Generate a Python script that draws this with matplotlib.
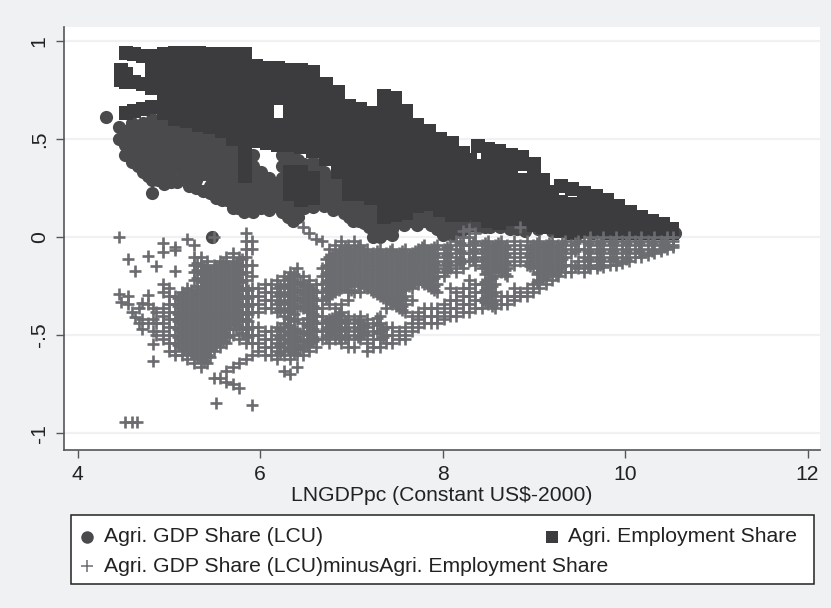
import matplotlib
matplotlib.use('Agg')
import matplotlib.pyplot as plt
from matplotlib.lines import Line2D
from matplotlib.patches import Rectangle

plt.rcParams['font.family'] = ['Liberation Sans', 'DejaVu Sans']

# values, one list of y values per x position
gdp_x = [4.31, 4.45, 4.52, 4.6, 4.72, 4.81, 4.95, 5.09, 5.22, 5.37, 5.45, 5.47, 5.58, 5.7, 5.82, 5.92,
         6.1, 6.24, 6.36, 6.48, 6.58, 6.7, 6.8, 6.92, 7.02, 7.14, 7.24, 7.31, 7.45, 7.58, 7.72, 7.87,
         8.0, 8.1, 8.24, 8.4, 8.52, 8.74, 8.9, 9.2, 9.5, 9.8, 10.1, 10.3, 10.55,
         4.58, 4.66, 4.77, 4.88, 5.02, 5.15, 5.3, 5.52, 5.64, 5.76, 5.87, 6.01, 6.17, 6.3, 6.42, 6.53,
         6.64, 6.75, 6.86, 6.97, 7.08, 7.19, 7.28, 7.38, 7.52, 7.65, 7.8, 7.94, 8.05, 8.17, 8.32, 8.46,
         8.63, 8.82, 9.05, 9.35, 9.65, 9.95, 10.2, 10.42]
gdp_y = [[.61], [.56, .5], [.54, .47, .42], [.58, .52, .46, .38], [.58, .52, .46, .4, .33],
         [.6, .54, .48, .42, .36, .29, .225], [.6, .54, .48, .42, .36, .32, .27], [.6, .54, .48, .42, .36, .28],
         [.58, .52, .46, .4, .34, .28, .26], [.56, .5, .44, .38, .32, .235], [.55, .49, .43, .37, .31, .26, .225],
         [0.0], [.53, .47, .41, .35, .29, .23, .19], [.52, .46, .4, .34, .28, .22, .15],
         [.46, .4, .34, .28, .22, .17, .13], [.42, .36, .3, .24, .18, .125], [.3, .24, .19, .14],
         [.42, .36, .3, .24, .18, .13], [.42, .36, .3, .24, .18, .13, .08], [.37, .3, .24, .18, .15],
         [.38, .32, .26, .2, .155], [.33, .27, .21, .16], [.3, .24, .19, .14], [.28, .22, .16, .12],
         [.26, .2, .14, .08], [.24, .18, .12, .07], [.2, .14, .08, 0.0], [.16, .1, .05, 0.0],
         [.14, .08, .04, .01], [.12, .07, .06], [.14, .09, .06], [.13, .08, .06], [.12, .07, .01],
         [.12, .06, .01], [.1, .06, .04], [.1, .05], [.09, .05], [.07, .04], [.05, .03], [.03], [.02], [.02],
         [.02], [.02], [.02],
         [.55, .49, .43], [.55, .49, .43, .36], [.55, .49, .43, .37, .31], [.57, .51, .45, .39, .33, .29],
         [.57, .51, .45, .39, .33, .28], [.55, .49, .43, .37, .31], [.53, .47, .41, .35, .29, .25],
         [.5, .44, .38, .32, .26, .2], [.49, .43, .37, .31, .25, .19], [.43, .37, .31, .25, .19, .15],
         [.39, .33, .27, .21, .15], [.33, .27, .21, .15], [.27, .21, .16], [.39, .33, .27, .21, .15, .1],
         [.39, .33, .27, .21, .15, .1], [.35, .29, .23, .17], [.35, .29, .23, .18], [.3, .24, .18],
         [.27, .21, .15], [.25, .19, .13, .1], [.23, .17, .11, .08], [.2, .15, .1, .05], [.16, .1, .04],
         [.12, .06, .02], [.12, .08], [.12, .08], [.12, .08], [.12, .08, .04], [.1, .04], [.1, .05, .03],
         [.1, .06], [.09, .05], [.08, .05], [.06, .04], [.04], [.03], [.02], [.02], [.02], [.02]]

emp_x = [4.47, 4.53, 4.62, 4.72, 4.82, 4.95, 5.07, 5.2, 5.33, 5.45, 5.58, 5.7, 5.83, 5.95, 6.08, 6.2,
         6.33, 6.45, 6.58, 6.72, 6.85, 6.97, 7.1, 7.22, 7.36, 7.48, 7.6, 7.72, 7.85, 7.97, 8.1, 8.22,
         8.3, 8.39, 8.5, 8.62, 8.75, 8.87, 9.0, 9.1, 9.2, 9.3, 9.42, 9.55, 9.68, 9.8, 9.92, 10.05,
         10.18, 10.3, 10.42, 10.52]
emp_y = [[.85, .8], [.94, .83, .79, .63], [.93, .79, .64], [.92, .78, .65], [.92, .87, .81, .76, .66],
         [.93, .88, .82, .77, .72, .67, .63], [.94, .89, .84, .78, .73, .68, .64, .6],
         [.94, .89, .83, .78, .72, .67, .62, .59], [.94, .88, .83, .77, .72, .66, .61, .57],
         [.93, .88, .82, .77, .71, .66, .6, .56], [.93, .87, .82, .76, .71, .65, .6, .54],
         [.93, .88, .82, .77, .71, .65, .6, .54, .5], [.93, .88, .82, .76, .71, .65, .6, .55, .5, .45, .4, .35, .31],
         [.87, .82, .76, .71, .65, .6, .55, .49], [.86, .81, .75, .7, .64, .58, .53, .48],
         [.86, .81, .75, .71, .57, .52, .47], [.85, .8, .74, .69, .63, .58, .52, .47, .33, .28, .22],
         [.85, .79, .74, .68, .62, .57, .51, .46, .33, .28, .22, .19], [.84, .78, .72, .67, .61, .55, .5, .44, .3, .25, .2],
         [.78, .72, .67, .61, .56, .5, .45, .4], [.74, .69, .63, .58, .52, .47, .42, .37, .33],
         [.67, .62, .56, .51, .45, .4, .35, .3, .27, .22], [.65, .6, .54, .49, .43, .38, .33, .28, .22],
         [.63, .57, .52, .46, .41, .36, .31, .26, .2], [.72, .67, .61, .56, .5, .45, .4, .35, .3, .25, .2, .14, .1],
         [.71, .65, .6, .54, .49, .43, .38, .33, .28, .22, .17, .11], [.64, .59, .53, .48, .42, .37, .32, .27, .22, .17, .12],
         [.57, .52, .47, .41, .36, .31, .26, .21, .16], [.54, .49, .44, .38, .33, .28, .22, .17],
         [.5, .45, .4, .34, .29, .24, .19, .14], [.48, .43, .37, .32, .27, .22, .16, .11],
         [.43, .38, .32, .27, .22, .16, .11], [.39, .33, .28, .22, .17, .12], [.465, .36, .31, .26, .21, .16, .11],
         [.45, .41, .34, .29, .23, .18, .12, .08], [.44, .4, .33, .27, .22, .16, .1, .07],
         [.42, .38, .31, .26, .2, .15, .09], [.41, .37, .29, .24, .19, .13, .08], [.37, .32, .27, .21, .15, .1, .06],
         [.29, .24, .19, .13, .08, .05], [.23, .18, .13, .08, .05], [.26, .18, .13, .09, .05, .03],
         [.245, .17, .12, .08, .04, .02], [.225, .155, .1, .06, .03], [.21, .145, .09, .05, .03],
         [.19, .13, .08, .04, .02], [.16, .11, .07, .03, .02], [.125, .08, .04, .02], [.1, .06, .03, .02],
         [.08, .05, .02], [.065, .035, .02], [.04, .02]]

diff_x = [4.45, 4.48, 4.52, 4.55, 4.6, 4.63, 4.65, 4.67, 4.71, 4.77, 4.83, 4.86, 4.94, 5.0, 5.07, 5.14, 5.2,
          5.28, 5.35, 5.42, 5.49, 5.52, 5.56, 5.63, 5.7, 5.77, 5.84, 5.91, 5.98, 6.05, 6.12, 6.19, 6.26, 6.33,
          6.4, 6.47, 6.54, 6.61, 6.68, 6.75, 6.82, 6.89, 6.96, 7.03, 7.1, 7.17, 7.24, 7.31, 7.38, 7.45, 7.52,
          7.59, 7.66, 7.73, 7.8, 7.87, 7.94, 8.01, 8.08, 8.15, 8.22, 8.29, 8.36, 8.43, 8.5, 8.57, 8.64, 8.71,
          8.78, 8.85, 8.92, 8.99, 9.06, 9.13, 9.2, 9.27, 9.34, 9.41, 9.48, 9.55, 9.62, 9.69, 9.76, 9.83, 9.9,
          9.97, 10.04, 10.11, 10.18, 10.25, 10.32, 10.39, 10.46, 10.53]
diff_y = [[0.0, -.29], [-.33], [-.94], [-.11, -.3, -.34], [-.94, -.38], [-.175, -.405], [-.94], [-.36, -.44],
          [-.335, -.42, -.47], [-.095, -.295, -.34, -.44], [-.36, -.42, -.48, -.545, -.63], [-.15, -.38, -.44, -.5],
          [-.03, -.075, -.24, -.28, -.36, -.4, -.44, -.48, -.52], [-.26, -.3, -.34, -.38, -.42, -.46, -.5, -.54, -.58],
          [-.05, -.065, -.175, -.3, -.34, -.38, -.42, -.46, -.5, -.54, -.58, -.6],
          [-.28, -.32, -.36, -.4, -.44, -.48, -.52, -.56, -.6],
          [-.01, -.26, -.3, -.34, -.38, -.42, -.46, -.5, -.54, -.58, -.62],
          [-.04, -.1, -.14, -.18, -.22, -.28, -.32, -.36, -.4, -.44, -.48, -.52, -.56, -.6, -.64],
          [-.1, -.14, -.18, -.22, -.26, -.3, -.34, -.38, -.42, -.46, -.5, -.54, -.58, -.62, -.66],
          [-.12, -.16, -.2, -.24, -.28, -.32, -.36, -.4, -.44, -.48, -.52, -.56, -.6, -.64],
          [0.0, -.14, -.18, -.22, -.26, -.3, -.34, -.38, -.42, -.46, -.5, -.54, -.58, -.72], [-.845],
          [-.12, -.16, -.2, -.24, -.28, -.32, -.36, -.4, -.44, -.48, -.52, -.56, -.72],
          [-.1, -.14, -.18, -.22, -.26, -.3, -.34, -.38, -.42, -.46, -.5, -.54, -.68, -.74],
          [-.08, -.12, -.16, -.2, -.24, -.28, -.32, -.36, -.4, -.44, -.5, -.66, -.75],
          [-.1, -.14, -.18, -.22, -.26, -.3, -.34, -.38, -.42, -.46, -.52, -.64, -.77],
          [.02, -.02, -.06, -.1, -.14, -.18, -.22, -.26, -.3, -.34, -.38, -.42, -.46, -.5, -.54, -.62],
          [-.02, -.06, -.14, -.2, -.26, -.3, -.34, -.38, -.46, -.5, -.54, -.6, -.855],
          [-.26, -.3, -.34, -.38, -.46, -.5, -.54, -.58], [-.24, -.28, -.32, -.36, -.48, -.52, -.56, -.6],
          [-.24, -.28, -.32, -.36, -.48, -.52, -.56, -.6], [-.22, -.26, -.3, -.34, -.38, -.46, -.5, -.54, -.58, -.62],
          [-.2, -.24, -.28, -.32, -.36, -.4, -.44, -.48, -.52, -.56, -.6, -.68],
          [-.18, -.22, -.26, -.3, -.34, -.38, -.42, -.46, -.5, -.54, -.58, -.62, -.7],
          [-.16, -.2, -.24, -.28, -.32, -.36, -.42, -.48, -.52, -.56, -.6, -.66],
          [.05, -.2, -.24, -.28, -.32, -.36, -.44, -.48, -.52, -.56, -.6],
          [.02, -.22, -.26, -.3, -.34, -.38, -.42, -.46, -.5, -.54, -.58],
          [-.01, -.24, -.28, -.32, -.36, -.4, -.44, -.48, -.52, -.56],
          [-.02, -.16, -.2, -.24, -.28, -.32, -.36, -.4, -.44, -.48, -.52],
          [-.06, -.1, -.14, -.18, -.22, -.26, -.3, -.34, -.42, -.46, -.5, -.54],
          [-.04, -.08, -.12, -.16, -.2, -.24, -.28, -.36, -.4, -.44, -.48, -.52],
          [-.02, -.06, -.1, -.14, -.18, -.22, -.26, -.34, -.38, -.42, -.46, -.5, -.54],
          [-.04, -.08, -.12, -.16, -.2, -.24, -.28, -.32, -.4, -.44, -.48, -.52, -.56],
          [-.02, -.06, -.1, -.14, -.18, -.22, -.28, -.42, -.46, -.5, -.56],
          [-.04, -.08, -.12, -.16, -.2, -.24, -.28, -.4, -.44, -.48, -.52],
          [-.06, -.1, -.14, -.18, -.22, -.26, -.42, -.46, -.5, -.54, -.58],
          [-.08, -.12, -.16, -.2, -.24, -.28, -.44, -.48, -.52, -.56],
          [-.06, -.1, -.14, -.18, -.22, -.26, -.3, -.4, -.44, -.48, -.52, -.56],
          [-.08, -.12, -.16, -.2, -.24, -.28, -.32, -.36, -.46, -.5, -.54],
          [-.06, -.1, -.14, -.18, -.22, -.26, -.3, -.34, -.46, -.5, -.54],
          [-.08, -.12, -.16, -.2, -.24, -.28, -.32, -.36, -.48, -.52],
          [-.06, -.1, -.14, -.18, -.22, -.26, -.3, -.34, -.38, -.46, -.5, -.52],
          [-.08, -.12, -.16, -.2, -.24, -.26, -.32, -.4, -.44, -.48],
          [-.06, -.1, -.14, -.18, -.22, -.24, -.38, -.42, -.46],
          [-.04, -.08, -.12, -.16, -.2, -.24, -.36, -.4, -.44],
          [-.06, -.1, -.14, -.18, -.22, -.26, -.36, -.4, -.44],
          [-.04, -.08, -.12, -.16, -.2, -.24, -.28, -.36, -.4, -.44],
          [-.06, -.1, -.14, -.18, -.2, -.34, -.38, -.42],
          [-.04, -.08, -.12, -.16, -.26, -.32, -.36, -.4],
          [-.02, -.06, -.1, -.14, -.18, -.28, -.32, -.36, -.4],
          [.03, 0.0, -.04, -.08, -.12, -.16, -.26, -.3, -.34, -.38],
          [.04, 0.0, -.04, -.08, -.12, -.22, -.26, -.3, -.34, -.38],
          [.02, -.02, -.06, -.1, -.14, -.24, -.28, -.32, -.36],
          [-.04, -.08, -.12, -.16, -.24, -.28, -.32, -.36],
          [-.02, -.06, -.1, -.14, -.18, -.22, -.26, -.3, -.34],
          [-.04, -.08, -.12, -.16, -.2, -.24, -.28, -.32, -.36],
          [-.02, -.06, -.1, -.14, -.18, -.3, -.34],
          [-.04, -.08, -.12, -.16, -.2, -.3, -.34],
          [-.02, -.06, -.1, -.14, -.26, -.3, -.32],
          [.05, -.04, -.08, -.12, -.28, -.3],
          [-.02, -.06, -.1, -.14, -.26, -.3],
          [-.04, -.08, -.12, -.16, -.24, -.28],
          [-.02, -.06, -.1, -.14, -.18, -.22, -.26],
          [-.04, -.08, -.12, -.16, -.2, -.24],
          [-.02, -.06, -.1, -.14, -.18, -.22],
          [-.04, -.08, -.12, -.16, -.2],
          [-.02, -.06, -.1, -.14, -.18],
          [-.04, -.08, -.14, -.18],
          [-.02, -.06, -.12, -.16],
          [-.02, -.06, -.1, -.14, -.18],
          [0.0, -.04, -.08, -.12, -.16],
          [-.02, -.06, -.1, -.14, -.16],
          [0.0, -.04, -.08, -.12, -.155],
          [-.02, -.06, -.1, -.14],
          [0.0, -.04, -.08, -.12, -.14],
          [-.02, -.06, -.1, -.13],
          [0.0, -.04, -.08, -.12],
          [-.02, -.06, -.1],
          [0.0, -.04, -.08, -.1],
          [-.02, -.06, -.09],
          [0.0, -.04, -.08],
          [-.02, -.06, -.07],
          [0.0, -.04, -.06],
          [0.0, -.02, -.04, -.05]]

# second pass over the dense parts of the same cloud
diff_x2 = [5.1, 5.17, 5.24, 5.31, 5.38, 5.45, 5.52, 5.59, 5.66, 5.73, 5.8, 5.87, 6.22, 6.3, 6.37, 6.44, 6.51, 6.58,
           6.72, 6.79, 6.86, 6.93, 7.0, 7.07, 7.14, 7.21, 7.28, 7.35, 7.42, 7.49, 7.56, 7.63, 7.7, 7.77, 7.84,
           7.91, 8.05, 8.19, 8.33, 8.47, 8.54, 8.61, 8.68, 8.96, 9.03, 9.1, 9.17, 9.24, 9.31, 9.45, 9.59, 9.73,
           9.87, 10.01, 10.15, 10.29, 10.43]
diff_y2 = [[-.31, -.35, -.39, -.43, -.47, -.51, -.55],
           [-.29, -.33, -.37, -.41, -.45, -.49, -.53, -.57],
           [-.27, -.31, -.35, -.39, -.43, -.47, -.51, -.55, -.59],
           [-.13, -.17, -.21, -.25, -.29, -.33, -.37, -.41, -.45, -.49, -.53, -.57, -.61],
           [-.15, -.19, -.23, -.27, -.31, -.35, -.39, -.43, -.47, -.51, -.55, -.59, -.63],
           [-.17, -.21, -.25, -.29, -.33, -.37, -.41, -.45, -.49, -.53, -.57, -.61],
           [-.15, -.19, -.23, -.27, -.31, -.35, -.39, -.43, -.47, -.51, -.55],
           [-.13, -.17, -.21, -.25, -.29, -.33, -.37, -.41, -.45, -.49, -.53],
           [-.15, -.19, -.23, -.27, -.31, -.35, -.39, -.43, -.47, -.51],
           [-.13, -.17, -.21, -.25, -.29, -.33, -.37, -.41, -.45, -.47],
           [-.11, -.15, -.19, -.23, -.27, -.31, -.35, -.39, -.43, -.47, -.49],
           [-.27, -.31, -.35, -.39, -.43, -.47, -.51],
           [-.25, -.29, -.33, -.37, -.47, -.51, -.55, -.59],
           [-.21, -.25, -.29, -.33, -.37, -.41, -.45, -.49, -.53, -.57],
           [-.19, -.23, -.27, -.31, -.35, -.39, -.43, -.47, -.51, -.55, -.59],
           [-.23, -.27, -.31, -.35, -.49, -.53, -.57],
           [-.25, -.29, -.33, -.37, -.41, -.45, -.49, -.53, -.55],
           [-.27, -.31, -.35, -.39, -.43, -.47, -.51, -.53],
           [-.11, -.15, -.19, -.23, -.27, -.31, -.43, -.47, -.51],
           [-.09, -.13, -.17, -.21, -.25, -.29, -.41, -.45, -.49],
           [-.07, -.11, -.15, -.19, -.23, -.27, -.39, -.43, -.47, -.51],
           [-.05, -.09, -.13, -.17, -.21, -.25, -.43, -.47, -.51],
           [-.07, -.11, -.15, -.19, -.23, -.27],
           [-.05, -.09, -.13, -.17, -.21, -.25, -.43, -.47, -.51],
           [-.07, -.11, -.15, -.19, -.23, -.25, -.45, -.49],
           [-.09, -.13, -.17, -.21, -.25, -.27],
           [-.07, -.11, -.15, -.19, -.23, -.27, -.29, -.41, -.45, -.49],
           [-.09, -.13, -.17, -.21, -.25, -.29, -.31, -.47, -.51],
           [-.07, -.11, -.15, -.19, -.23, -.27, -.31, -.33],
           [-.09, -.13, -.17, -.21, -.25, -.29, -.33, -.35],
           [-.07, -.11, -.15, -.19, -.23, -.27, -.31, -.35, -.37],
           [-.09, -.13, -.17, -.21, -.25],
           [-.07, -.11, -.15, -.19, -.23],
           [-.05, -.09, -.13, -.17, -.21, -.23],
           [-.07, -.11, -.15, -.19, -.23, -.25],
           [-.05, -.09, -.13, -.17, -.21, -.25, -.27],
           [-.05, -.09, -.13, -.17],
           [-.03, -.07, -.11, -.13],
           [-.03, -.07, -.11],
           [-.03, -.07, -.11, -.15, -.19, -.23, -.27, -.31, -.33],
           [-.05, -.09, -.13, -.17, -.21, -.25, -.29, -.33, -.35],
           [-.03, -.07, -.11, -.15, -.17],
           [-.05, -.09, -.13, -.17, -.19],
           [-.05, -.09, -.13, -.15],
           [-.03, -.07, -.11, -.15, -.19, -.23],
           [-.05, -.09, -.13, -.17, -.21],
           [-.03, -.07, -.11, -.15, -.19],
           [-.05, -.09, -.13, -.17, -.19],
           [-.03, -.07, -.11, -.15],
           [-.03, -.07, -.15],
           [-.03, -.07, -.11, -.15],
           [-.03, -.07, -.11, -.14],
           [-.03, -.07, -.11],
           [-.03, -.07, -.11],
           [-.03, -.07],
           [-.03, -.07],
           [-.03, -.05]]

x_ticks = [4, 6, 8, 10, 12]
y_ticks = [-1, -.5, 0, .5, 1]
y_tick_labels = ['-1', '-.5', '0', '.5', '1']

gdp_color = '#4a4a4d'
emp_color = '#3c3c3e'
diff_color = '#6b6c70'
text_color = '#222222'


def flatten(xs, ys):
    # one point per y value, repeating the column's x
    px, py = [], []
    for x, col in zip(xs, ys):
        for y in col:
            px.append(x)
            py.append(y)
    return px, py


W, H = 831, 608
fig = plt.figure(figsize=(W / 100, H / 100), dpi=100, facecolor='#eff1f3')
ax = fig.add_axes([64 / W, 1 - 450 / H, (820 - 64) / W, (450 - 27) / H])
ax.set_xlim(3.85, 12.137)
ax.set_ylim(-1.085, 1.07)

ax.grid(axis='y', color='#eff1f3', linewidth=1.6)
ax.set_axisbelow(True)

gx, gy = flatten(gdp_x, gdp_y)
ex, ey = flatten(emp_x, emp_y)
dx, dy = flatten(diff_x + diff_x2, diff_y + diff_y2)
ax.scatter(gx, gy, s=90, marker='o', color=gdp_color, linewidths=0)
ax.scatter(ex, ey, s=90, marker='s', color=emp_color, linewidths=0)
ax.scatter(dx, dy, s=75, marker='+', color=diff_color, linewidths=1.9)

for side in ['top', 'right']:
    ax.spines[side].set_visible(False)
for side in ['left', 'bottom']:
    ax.spines[side].set_color('#55565a')
    ax.spines[side].set_linewidth(1.2)

ax.set_xticks(x_ticks)
ax.set_yticks(y_ticks)
ax.set_yticklabels(y_tick_labels, rotation=90, va='center')
ax.tick_params(axis='both', length=6, width=1, color='#55565a', labelcolor=text_color, labelsize=15.2, pad=5)
ax.set_xlabel('LNGDPpc (Constant US$-2000)', fontsize=15.2, color=text_color, labelpad=1)


def fx(px):
    return px / W


def fy(py):
    return 1 - py / H


# legend box: one entry runs under the other column, so it is laid out by hand
fig.add_artist(Rectangle((fx(71), fy(584)), (814 - 71) / W, (584 - 515) / H, transform=fig.transFigure,
                         facecolor='white', edgecolor=text_color, linewidth=1.1))
entries = [(87, 537, 'o', gdp_color, 9, 104, 'Agri. GDP Share (LCU)'),
           (552, 537, 's', emp_color, 8, 568, 'Agri. Employment Share'),
           (87, 566, '+', diff_color, 8.5, 104, 'Agri. GDP Share (LCU)minusAgri. Employment Share')]
for mx, my, marker, color, size, tx, label in entries:
    fig.add_artist(Line2D([fx(mx)], [fy(my)], transform=fig.transFigure, marker=marker, color=color,
                          markersize=size, markeredgewidth=1.1 if marker == '+' else 0, linestyle='none'))
    fig.text(fx(tx), fy(my), label, fontsize=15.2, color=text_color, va='center', ha='left')

fig.savefig('out.png', dpi=100, facecolor=fig.get_facecolor())
